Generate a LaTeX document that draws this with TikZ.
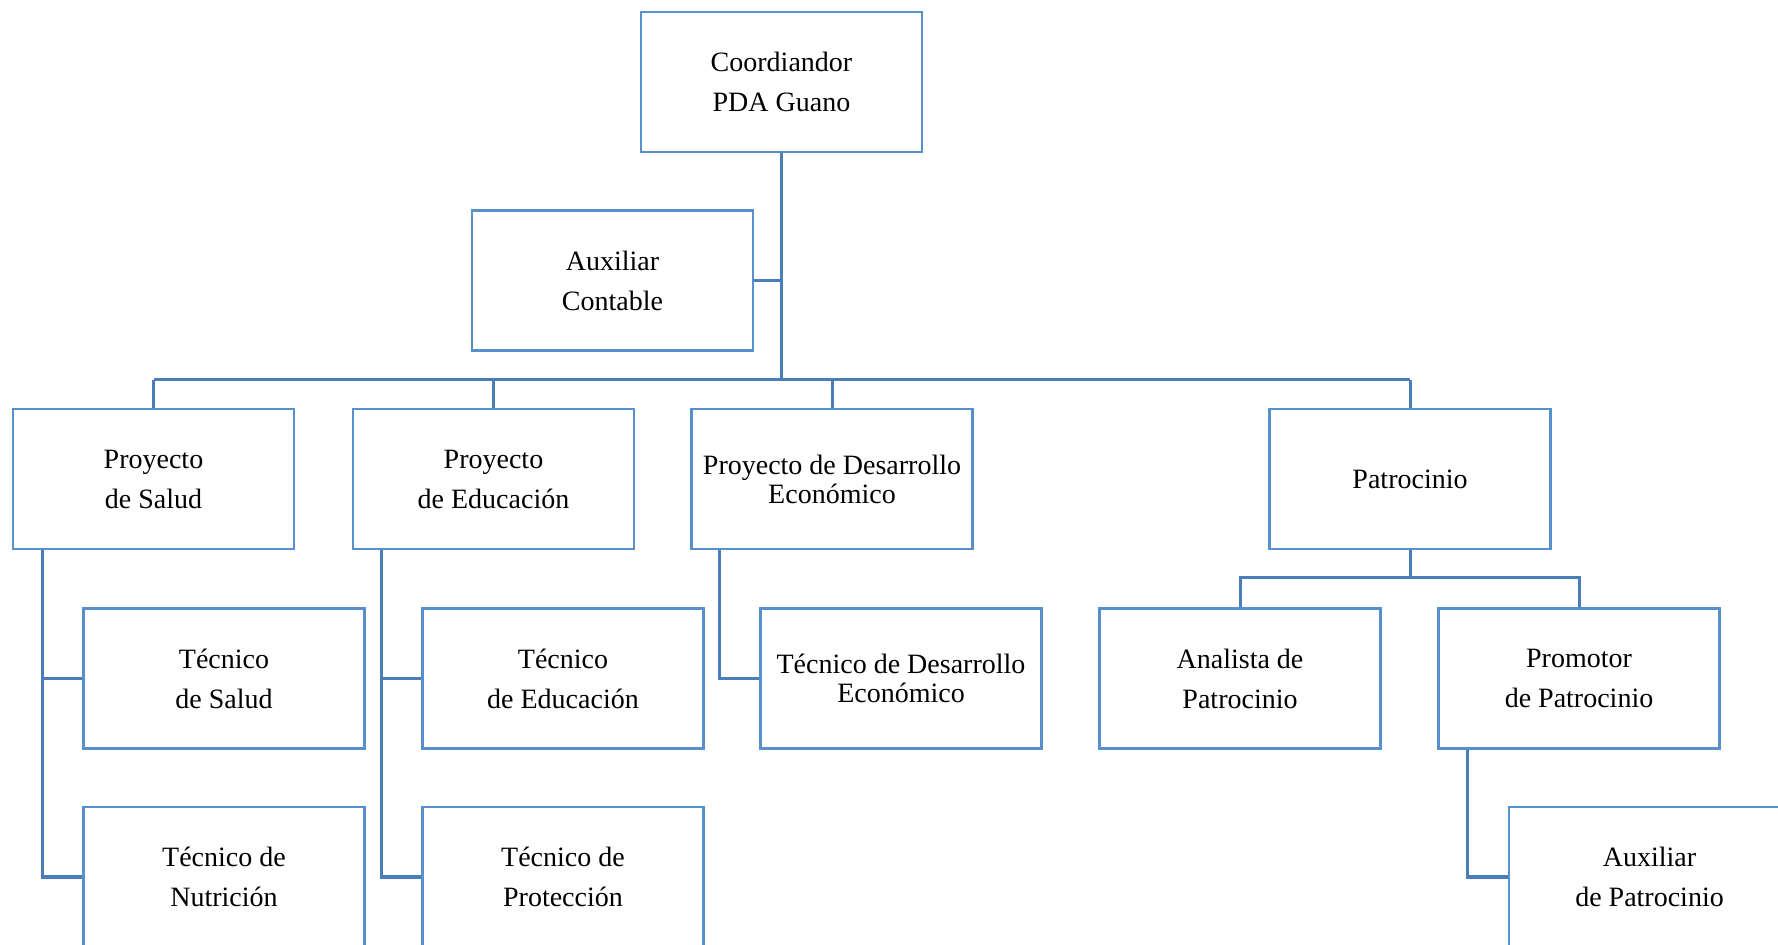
\documentclass[tikz,border=0pt]{standalone}
\usepackage{fontspec}
\setmainfont{Liberation Serif}
\definecolor{boxblue}{RGB}{88,143,205}
\definecolor{lineblue}{RGB}{74,126,187}
\begin{document}
\begin{tikzpicture}[x=0.5pt,y=-0.5pt,
  box/.style={draw=boxblue,line width=1.4pt,minimum width=140.5pt,minimum height=70pt,inner sep=0pt,align=center,font=\fontsize{14}{20}\selectfont},
  tightbox/.style={box,font=\fontsize{14}{14.5}\selectfont},
  link/.style={draw=lineblue,line width=1.5pt}]
\useasboundingbox (0,0) rectangle (1778,945);
\clip (0,0) rectangle (1778,945);
\fill[white] (0,0) rectangle (1778,945);
% nodes
\node[box] (coord) at (781.5,82) {Coordiandor\\PDA Guano};
\node[box] (aux) at (612.5,280.5) {Auxiliar\\Contable};
\node[box] (salud) at (153.5,479) {Proyecto\\de Salud};
\node[box] (educ) at (493.5,479) {Proyecto\\de Educación};
\node[tightbox] (desa) at (832,479) {Proyecto de Desarrollo\\Económico};
\node[box] (patro) at (1410,479) {Patrocinio};
\node[box] (tsalud) at (224,678.5) {Técnico\\de Salud};
\node[box] (tedu) at (563,678.5) {Técnico\\de Educación};
\node[tightbox] (tdes) at (901,678.5) {Técnico de Desarrollo\\Económico};
\node[box] (anal) at (1240,678.5) {Analista de\\Patrocinio};
\node[box] (prom) at (1579,678.5) {Promotor\\de Patrocinio};
\node[box] (nutr) at (224,877) {Técnico de\\Nutrición};
\node[box] (prot) at (563,877) {Técnico de\\Protección};
\node[box] (auxp) at (1649.5,877) {Auxiliar\\de Patrocinio};
% coordinates
\coordinate (bus) at (781.5,380);
\coordinate (pbus) at (1410,578);
% connectors
\draw[link] (coord.south) -- (bus);
\draw[link] (aux.east) -- (aux.east -| bus);
\draw[link] (salud.north |- bus) -- (patro.north |- bus);
\draw[link] (salud.north) -- (salud.north |- bus);
\draw[link] (educ.north) -- (educ.north |- bus);
\draw[link] (desa.north) -- (desa.north |- bus);
\draw[link] (patro.north) -- (patro.north |- bus);
\draw[link] (salud.south west) ++(31,0) coordinate (sv) |- (nutr.west);
\draw[link] (sv) |- (tsalud.west);
\draw[link] (educ.south west) ++(30,0) coordinate (ev) |- (prot.west);
\draw[link] (ev) |- (tedu.west);
\draw[link] (desa.south west) ++(29,0) |- (tdes.west);
\draw[link] (patro.south) -- (pbus);
\draw[link] (anal.north) |- (pbus) -| (prom.north);
\draw[link] (prom.south west) ++(30,0) |- (auxp.west);
\end{tikzpicture}
\end{document}
